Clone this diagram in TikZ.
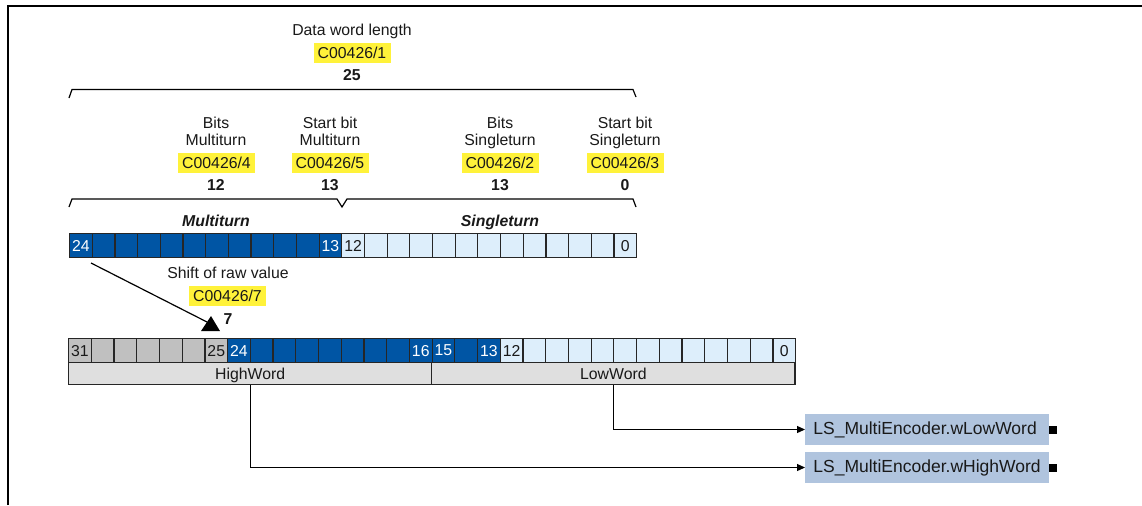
\documentclass[tikz,border=0pt]{standalone}
\usepackage{fontspec}
\setmainfont{Liberation Sans}
\usepackage{tikz}
\usetikzlibrary{arrows.meta}

\definecolor{mtblue}{HTML}{0055A4}
\definecolor{stblue}{HTML}{DDEEFB}
\definecolor{hiGray}{HTML}{C0C0C0}
\definecolor{wordGray}{HTML}{DFDFDF}
\definecolor{codeYellow}{HTML}{FFF23A}
\definecolor{outBlue}{HTML}{B0C4DE}

\newcommand{\dfont}{\fontsize{7.9}{8.6}\selectfont}

\tikzset{
  fixdepth/.style={text height=5.8pt, text depth=1.7pt},
  bitcell/.style={draw=black!85, line width=0.6pt, minimum width=11.35pt,
    minimum height=12pt, inner sep=0pt, anchor=north west},
  wordcell/.style={draw=black!85, line width=0.6pt, fill=wordGray,
    text height=7.8pt, text depth=1.7pt,
    minimum width=181.6pt, minimum height=11pt, inner sep=0pt, anchor=north west},
  code/.style={fill=codeYellow, minimum width=38.5pt, minimum height=10pt, inner sep=0pt},
  val/.style={font=\dfont\bfseries},
  title/.style={align=center, anchor=north},
  part/.style={font=\dfont\bfseries\itshape, fixdepth},
  outbox/.style={fill=outBlue, anchor=west, minimum height=15.5pt, inner xsep=4pt,
    text width=114pt, align=left, font=\fontsize{8.75}{10}\selectfont},
  term/.style={fill=black, minimum size=4pt, inner sep=0pt},
  arr/.style={-{Triangle[length=4pt,width=3.5pt]}, line width=0.6pt}
}

\begin{document}
\begin{tikzpicture}[x=0.5pt, y=-0.5pt, text=black!90, font=\dfont]

    \useasboundingbox (0,0) rectangle (1142,505);

    % Rahmen
    \draw[line width=1pt] (8,505) -- (8,6) -- (1142,6);

    % Datenwort
    \node (dwl) at (352,31) {Data word length};
    \node[code] (c1) at (352,53) {C00426/1};
    \node[val] (n25) at (352,75) {25};
    \draw[line width=0.6pt] (69,98) -- (72,89.5) -- (633,89.5) -- (636,97);

    % Parameter
    \node[title] (bm)  at (216,109.5) {Bits\\Multiturn};
    \node[title] (sbm) at (330,109.5) {Start bit\\Multiturn};
    \node[title] (bs)  at (500,109.5) {Bits\\Singleturn};
    \node[title] (sbs) at (625,109.5) {Start bit\\Singleturn};

    \node[code] (c4) at (216.5,163) {C00426/4};
    \node[code] (c5) at (330,163) {C00426/5};
    \node[code] (c2) at (500,163) {C00426/2};
    \node[code] (c3) at (625,163) {C00426/3};

    \node[val] (n12)  at (216,185) {12};
    \node[val] (n13a) at (330,185) {13};
    \node[val] (n13b) at (500,185) {13};
    \node[val] (n0)   at (625,185) {0};

    \draw[line width=0.6pt] (69,207) -- (72,199) -- (337,199) -- (342,207)
        -- (347,199) -- (633,199) -- (636,207);
    \node[part] (mt) at (216,222) {Multiturn};
    \node[part] (st) at (500,222) {Singleturn};

    % Rohwert (25 Bit)
    \foreach \b in {0,...,24} {
        \ifnum\b>12 \def\fc{mtblue}\else\def\fc{stblue}\fi
        \node[bitcell, fill=\fc] (u\b) at ({69+(24-\b)*22.68},233) {};
    }
    \foreach \b/\c in {24/white,13/white,12/black!90,0/black!90}
        \node[text=\c] at (u\b) {\b};

    % Verschiebung
    \node (shift) at (228,273) {Shift of raw value};
    \node[code] (c7) at (227.5,295.5) {C00426/7};
    \node[val] (n7) at (228,319) {7};
    \coordinate (shiftStart) at (91,263);
    \coordinate (shiftTip) at (207,322);
    \draw[line width=0.6pt] (shiftStart) -- (shiftTip);
    \fill (201,331) -- (211,316) -- (220,331) -- cycle;

    % Ausgangswert (32 Bit)
    \foreach \b in {0,...,31} {
        \ifnum\b>24 \def\fc{hiGray}\else\ifnum\b>12 \def\fc{mtblue}\else\def\fc{stblue}\fi\fi
        \node[bitcell, fill=\fc] (l\b) at ({68+(31-\b)*22.72},338) {};
    }
    \foreach \b/\c in {31/black!90,25/black!90,24/white,16/white,15/white,13/white,12/black!90,0/black!90}
        \node[text=\c] at (l\b) {\b};

    \node[wordcell] (hw) at (68,362) {HighWord};
    \node[wordcell] (lw) at (431.2,362) {LowWord};

    % Ausgaenge
    \node[outbox] (outLow)  at (805,429.5) {LS\_MultiEncoder.wLowWord};
    \node[outbox] (outHigh) at (805,467.5) {LS\_MultiEncoder.wHighWord};
    \node[term] (sqLow)  at (1053,429.5) {};
    \node[term] (sqHigh) at (1053,467.5) {};

    \draw[arr] (lw.south) |- (outLow.west);
    \draw[arr] (hw.south) |- (outHigh.west);

\end{tikzpicture}
\end{document}
